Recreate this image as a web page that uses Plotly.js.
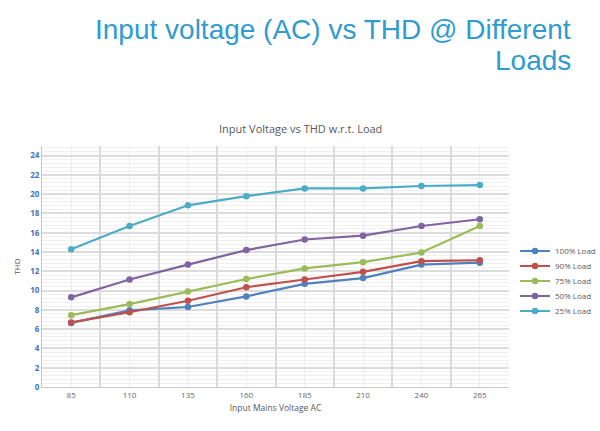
<!DOCTYPE html>
<html><head><meta charset="utf-8">
<script src="https://cdn.plot.ly/plotly-3.0.1.min.js"></script>
<style>html,body{margin:0;padding:0;background:#fff}#chart{width:600px;height:431px}</style>
</head><body><div id="chart"></div>
<script>
const voltages = ["85","110","135","160","185","210","240","265"];
const load100 = [6.65, 7.95, 8.3, 9.4, 10.7, 11.3, 12.7, 12.9];
const load90  = [6.7, 7.75, 8.95, 10.35, 11.15, 11.95, 13.05, 13.15];
const load75  = [7.45, 8.6, 9.9, 11.2, 12.3, 12.95, 13.95, 16.7];
const load50  = [9.3, 11.15, 12.7, 14.2, 15.3, 15.7, 16.7, 17.4];
const load25  = [14.3, 16.7, 18.85, 19.8, 20.6, 20.6, 20.85, 20.95];
const seriesNames = ["100% Load","90% Load","75% Load","50% Load","25% Load"];
const seriesColors = ["#4F81BD","#C0504D","#9BBB59","#8064A2","#4BACC6"];
const seriesData = [load100, load90, load75, load50, load25];

const L = 42, R = 91, T = 146, B = 44, W = 600, H = 431;
const pw = W - L - R, ph = H - T - B;
const legendKeys = ['legend','legend2','legend3','legend4','legend5'];
const catIndex = voltages.map((v,i)=>i);

const traces = [];
traces.push({x: catIndex, y: load100, xaxis:'x2', yaxis:'y', showlegend:false, hoverinfo:'skip',
  mode:'markers', marker:{opacity:0}});
seriesData.forEach((d,i)=>traces.push({
  x: voltages, y: d, name: seriesNames[i], type:'scatter', mode:'lines+markers',
  legend: legendKeys[i],
  line:{color:seriesColors[i], width:2.2}, marker:{color:seriesColors[i], size:6.5}
}));

const layout = {
  width:W, height:H,
  margin:{l:L, r:R, t:T, b:B, autoexpand:false},
  paper_bgcolor:'#fff', plot_bgcolor:'#fff',
  font:{family:'Open Sans, Liberation Sans, sans-serif', color:'#595959'},
  xaxis:{type:'category', range:[-0.5,7.5], dtick:1, showgrid:true, gridcolor:'#ededed', gridwidth:1,
    ticks:'', tickfont:{size:8, color:'#666'}, showline:true, linecolor:'#c8c8c8',
    title:{text:'Input Mains Voltage AC', font:{size:8.5, color:'#595959'}, standoff:6},
    zeroline:false, layer:'below traces'},
  xaxis2:{type:'linear', overlaying:'x', side:'bottom', range:[-0.5,7.5], tickmode:'linear', tick0:0.5, dtick:1, showgrid:true,
    gridcolor:'#dadada', gridwidth:2,
    showticklabels:false, ticks:'', zeroline:false, showline:false, layer:'below traces'},
  yaxis:{range:[0,25], dtick:2, tick0:0, showgrid:true, gridcolor:'#dcdcdc', gridwidth:2,
    minor:{dtick:0.4, showgrid:true, gridcolor:'#f0f0f0', gridwidth:1},
    tickfont:{size:8, color:'#4472C4', family:'Open Sans, sans-serif', weight:'bold'},
    showline:true, linecolor:'#c8c8c8', zeroline:false, ticks:'', ticklen:0,
    title:{text:'THD', font:{size:8, color:'#595959'}, standoff:8}},
  showlegend:true,
  annotations:[
    {text:'Input voltage (AC) vs THD @ Different', xref:'paper', yref:'paper',
     x:(573-L)/pw, xanchor:'right', yanchor:'middle', y:(H-B-30)/ph, showarrow:false,
     font:{family:'Liberation Sans, Arial, sans-serif', size:28, color:'#2F9BD1'}},
    {text:'Loads', xref:'paper', yref:'paper',
     x:(573-L)/pw, xanchor:'right', yanchor:'middle', y:(H-B-61)/ph, showarrow:false,
     font:{family:'Liberation Sans, Arial, sans-serif', size:28, color:'#2F9BD1'}},
    {text:'Input Voltage vs THD w.r.t. Load', xref:'paper', yref:'paper', x:(300-L)/pw, y:(H-B-128)/ph,
     xanchor:'center', yanchor:'middle', showarrow:false, font:{size:11, color:'#595959'}}
  ]
};
const legendY = [251, 266, 281, 296, 311];
legendKeys.forEach((k,i)=>{
  layout[k] = {x:(515-L)/pw, xanchor:'left', xref:'paper', y:(H-B-legendY[i])/ph, yanchor:'middle', yref:'paper',
    font:{size:8, color:'#595959'}, itemwidth:30, bgcolor:'rgba(0,0,0,0)', borderwidth:0};
});
Plotly.newPlot('chart', traces, layout, {displayModeBar:false, staticPlot:true});
</script></body></html>
